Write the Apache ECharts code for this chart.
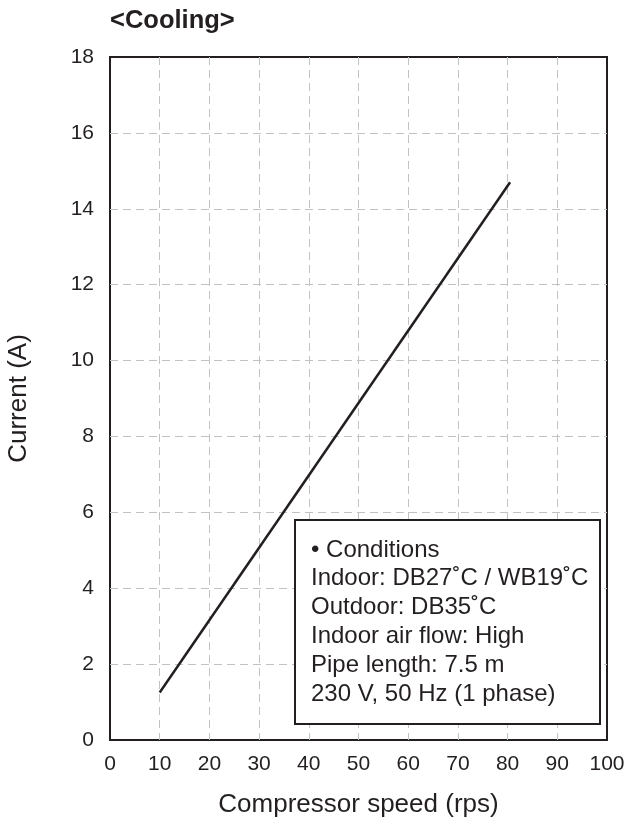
<!DOCTYPE html>
<html>
<head>
<meta charset="utf-8">
<script src="https://cdn.jsdelivr.net/npm/echarts@6/dist/echarts.min.js"></script>
<style>
  html, body { margin: 0; padding: 0; background: #fff; }
  #main { width: 628px; height: 822px; }
</style>
</head>
<body>
<div id="main"></div>
<script>
// data
const speedRps = [10, 80.5]
const currentA = [1.25, 14.7]
const conditionLines = [
  '• Conditions',
  'Indoor: DB27˚C / WB19˚C',
  'Outdoor: DB35˚C',
  'Indoor air flow: High',
  'Pipe length: 7.5 m',
  '230 V, 50 Hz (1 phase)'
]

const chart = echarts.init(document.getElementById('main'))
const font = '"Liberation Sans", Arial, sans-serif'
const ink = '#231f20'
const gridLine = { color: '#c2c2c2', type: [8, 5], width: 1 }

const option = {
  animation: false,
  textStyle: { fontFamily: font, color: ink },
  title: {
    text: '<Cooling>',
    left: 110,
    top: 8,
    padding: 0,
    textStyle: { fontFamily: font, fontSize: 25.5, fontWeight: 'bold', color: ink }
  },
  grid: {
    left: 110,
    right: 21,
    top: 57,
    bottom: 82,
    outerBoundsMode: 'none',
    containLabel: false,
    show: true,
    borderColor: ink,
    borderWidth: 2,
    backgroundColor: 'transparent'
  },
  xAxis: {
    type: 'value',
    min: 0,
    max: 100,
    interval: 10,
    name: 'Compressor speed (rps)',
    nameLocation: 'middle',
    nameGap: 52,
    nameTextStyle: { fontSize: 26, color: ink, fontFamily: font },
    axisLine: { show: false },
    axisTick: { show: false },
    axisLabel: { fontSize: 21, color: ink, margin: 14, fontFamily: font },
    splitLine: { showMinLine: false, showMaxLine: false, lineStyle: gridLine }
  },
  yAxis: {
    type: 'value',
    min: 0,
    max: 18,
    interval: 2,
    name: 'Current (A)',
    nameLocation: 'middle',
    nameGap: 78,
    nameTextStyle: { fontSize: 26, color: ink, fontFamily: font },
    axisLine: { show: false },
    axisTick: { show: false },
    axisLabel: { fontSize: 21, color: ink, margin: 16, fontFamily: font },
    splitLine: { showMinLine: false, showMaxLine: false, lineStyle: gridLine }
  },
  series: [
    {
      type: 'line',
      data: speedRps.map((x, i) => [x, currentA[i]]),
      showSymbol: false,
      lineStyle: { color: ink, width: 2.5 },
      z: 3
    }
  ],
  graphic: [
    {
      type: 'group',
      left: 294,
      top: 519,
      z: 100,
      children: [
        {
          type: 'rect',
          z: 100,
          shape: { x: 0, y: 0, width: 305, height: 204 },
          style: { fill: '#ffffff', stroke: ink, lineWidth: 2 }
        },
        {
          type: 'text',
          z: 101,
          x: 16,
          y: 15.5,
          style: {
            text: conditionLines.join('\n'),
            font: '24px ' + font,
            lineHeight: 28.8,
            fill: ink
          }
        }
      ]
    }
  ]
}

chart.setOption(option)
</script>
</body>
</html>
